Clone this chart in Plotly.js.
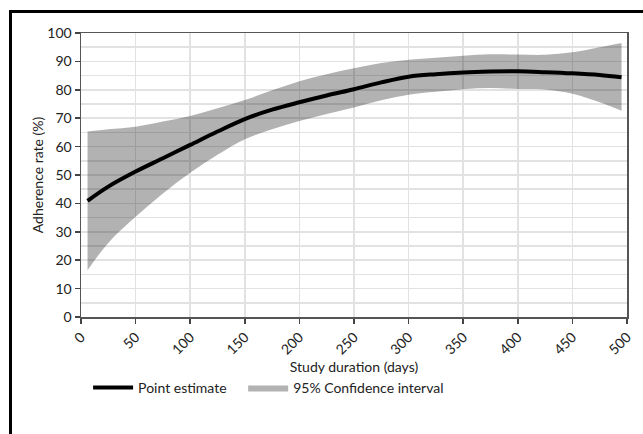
<!DOCTYPE html>
<html>
<head>
<meta charset="utf-8">
<script src="https://cdn.plot.ly/plotly-3.0.1.min.js"></script>
<style>
  html, body { margin: 0; padding: 0; background: #ffffff; }
  #wrap { position: relative; width: 643px; height: 434px; overflow: hidden; }
  #chart { width: 643px; height: 434px; }
  #frame { position: absolute; left: 9px; top: 10px; width: 700px; height: 500px;
           border-left: 3px solid #000; border-top: 3px solid #000; pointer-events: none; }
</style>
</head>
<body>
<div id="wrap">
  <div id="chart"></div>
  <div id="frame"></div>
</div>
<script>
// Study duration (days)
const days = [6, 25, 50, 75, 100, 125, 150, 175, 200, 225, 250, 275, 300, 325, 350, 375, 400, 425, 450, 475, 495];
// Point estimate (%)
const estimate = [40.9, 45.9, 51.2, 55.9, 60.6, 65.3, 69.7, 73.0, 75.6, 78.0, 80.2, 82.6, 84.6, 85.5, 86.1, 86.4, 86.5, 86.2, 85.8, 85.2, 84.4];
// 95% confidence interval bounds (%)
const upper = [65.3, 66.1, 67.0, 68.8, 70.8, 73.5, 76.4, 79.8, 83.0, 85.5, 87.6, 89.4, 90.6, 91.3, 92.0, 92.5, 92.4, 92.3, 93.2, 95.0, 96.5];
const lower = [16.5, 26.1, 35.3, 43.5, 50.8, 57.1, 62.6, 66.1, 69.0, 71.5, 73.8, 76.3, 78.3, 79.3, 80.2, 80.6, 80.3, 80.1, 78.6, 75.6, 72.6];

const xTicks = [0, 50, 100, 150, 200, 250, 300, 350, 400, 450, 500];
const yTicks = [0, 10, 20, 30, 40, 50, 60, 70, 80, 90, 100];

const FONT = 'Lato, "Open Sans", sans-serif';
const FS = 14;

const traces = [
  { x: days, y: lower, type: 'scatter', mode: 'lines', line: { width: 0, shape: 'spline' },
    showlegend: false, hoverinfo: 'skip' },
  { x: days, y: upper, type: 'scatter', mode: 'lines', line: { width: 0, shape: 'spline' },
    fill: 'tonexty', fillcolor: 'rgba(0,0,0,0.30)', name: '95% Confidence interval', legend: 'legend2' },
  { x: days, y: estimate, type: 'scatter', mode: 'lines', line: { color: '#000000', width: 4, shape: 'spline' },
    name: 'Point estimate', legend: 'legend' }
];

const legendBase = {
  orientation: 'h', xanchor: 'left', y: -0.25, yanchor: 'middle',
  font: { size: FS, family: FONT, color: '#222' }, bgcolor: 'rgba(0,0,0,0)', itemwidth: 40
};

const layout = {
  width: 643, height: 434,
  margin: { l: 81, r: 16, t: 33, b: 117 },
  paper_bgcolor: '#ffffff', plot_bgcolor: '#ffffff',
  font: { family: FONT, size: FS, color: '#222222' },
  xaxis: {
    range: [0, 500], tickvals: xTicks, ticktext: xTicks.map(String), tickangle: -45,
    ticks: 'outside', ticklen: 5, tickwidth: 1.5, tickcolor: '#444',
    showline: true, linecolor: '#555', linewidth: 1.5, mirror: true,
    showgrid: true, gridcolor: '#e2e2e2', gridwidth: 1.5, zeroline: false,
    title: { text: 'Study duration (days)', font: { size: FS, family: FONT, color: '#222' }, standoff: 0 },
    tickfont: { size: FS, family: FONT, color: '#222' }
  },
  yaxis: {
    range: [0, 100], tickvals: yTicks, ticktext: yTicks.map(String),
    ticks: 'outside', ticklen: 5, tickwidth: 1.5, tickcolor: '#444',
    showline: true, linecolor: '#555', linewidth: 1.5, mirror: true,
    showgrid: true, gridcolor: '#e2e2e2', gridwidth: 1.5, zeroline: false,
    minor: { dtick: 5, showgrid: true, gridcolor: '#e2e2e2', gridwidth: 1.5, ticks: '' },
    title: { text: 'Adherence rate (%)', font: { size: FS, family: FONT, color: '#222' }, standoff: 0 },
    tickfont: { size: FS, family: FONT, color: '#222' }
  },
  showlegend: true,
  legend: Object.assign({}, legendBase, { x: 0.013 }),
  legend2: Object.assign({}, legendBase, { x: 0.297 })
};

Plotly.newPlot('chart', traces, layout, { displayModeBar: false, staticPlot: true });
</script>
</body>
</html>
